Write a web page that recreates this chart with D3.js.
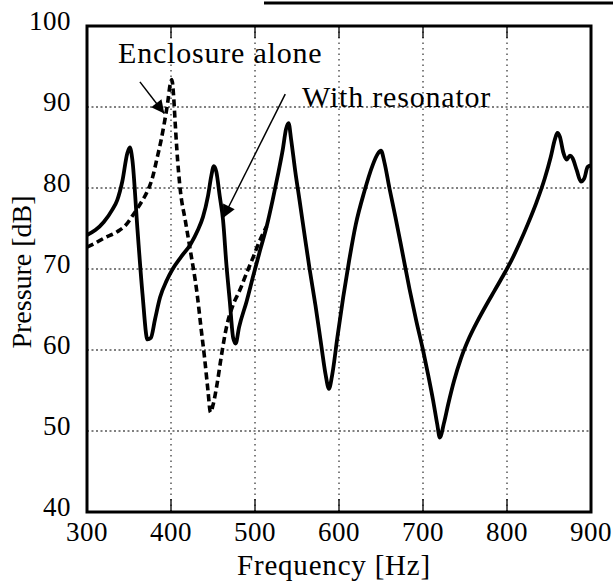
<!DOCTYPE html>
<html><head><meta charset="utf-8">
<script src="https://cdn.jsdelivr.net/npm/d3@7"></script>
<style>body{margin:0;background:#fff}svg{display:block}text{font-family:"Liberation Serif","Times New Roman",serif;fill:#000}</style>
</head><body>
<script>
// ---- data ----
const xTicks = [300, 400, 500, 600, 700, 800, 900];
const yTicks = [40, 50, 60, 70, 80, 90, 100];
const xLabel = "Frequency [Hz]";
const yLabel = "Pressure [dB]";
const withResFreq = [300,310,320,330,336,342,348,351,354,360,366,372,376,381,387,395,402,412,423,432,438,444,448,451,454,458,462,466,470,474,477,481,490,498,506,514,521,528,533,537,540,543,548,553,560,565,572,579,584,588,592,598,605,612,620,630,640,646,650,654,660,667,675,684,692,700,706,712,717,720,725,730,737,745,755,765,775,785,795,805,815,825,835,845,852,857,860,863,867,871,875,878,883,888,892,896,900];
const withResDb = [74.2,74.8,75.8,77.3,78.5,80.8,84.3,85.0,83.5,75,67,61.3,61.5,63.8,66.5,68.6,70,71.5,73,74.8,76.4,79,81.5,82.7,82,79,76,70.5,66,61.5,60.8,62.8,66,69.2,72.3,75.3,78.5,82,84.7,87.3,88,86,82,78.5,73.5,70,65.5,60.5,57,55.2,57,61.5,66.5,71,75.5,79.5,82.8,84.2,84.6,83.2,80,76.5,72.3,67.5,63.6,60,57,53.8,50.8,49.2,51,53.3,56.2,58.9,61.5,63.6,65.5,67.3,69.1,71,73.2,75.6,78.2,81.2,83.8,86,86.8,86.3,84.4,83.5,84,83.7,82.2,80.8,81.2,82.6,82.8];
const aloneFreq = [300,310,320,336,346,355,365,371,378,383,388,392,396,399,401,403,405,407,411,417,423,431,436,440,444,447,450,455,460,466,474,482,490,498,506,514];
const aloneDb = [72.7,73.2,73.8,74.6,75.4,76.7,78.3,79.4,81.3,83.5,85.8,88,90.5,92.8,93.4,91.5,88,84.7,79.8,76,72.3,67,62.5,59,55,52.3,53.2,55.9,59.3,62.8,65.6,67.4,69.5,71.5,73.6,75.3];
const labelAlone = "Enclosure alone";
const labelWith = "With resonator";

// ---- layout ----
const W = 613, H = 582;
const pL = 87, pR = 591, pT = 26, pB = 512;
const svg = d3.select("body").append("svg").attr("width", W).attr("height", H);
const x = d3.scaleLinear().domain([300, 900]).range([pL, pR]);
const y = d3.scaleLinear().domain([40, 100]).range([pB, pT]);

// scan artifact line at top
svg.append("line").attr("x1", 264).attr("x2", 613).attr("y1", 3).attr("y2", 3)
  .attr("stroke", "#000").attr("stroke-width", 3);

// grid
const g = svg.append("g");
const inner = xTicks.filter(d => d > 300 && d < 900);
g.selectAll(".hg").data(yTicks.filter(d => d > 40 && d < 100)).join("line")
  .attr("x1", pL).attr("x2", pR).attr("y1", d => y(d)).attr("y2", d => y(d))
  .attr("stroke", "#000").attr("stroke-width", 1).attr("stroke-dasharray", "2,2.5");
g.selectAll(".vg").data(inner).join("line")
  .attr("x1", d => x(d)).attr("x2", d => x(d)).attr("y1", pT).attr("y2", pB)
  .attr("stroke", "#000").attr("stroke-width", 1).attr("stroke-dasharray", "1.5,4");
g.selectAll(".tb").data(inner).join("line")
  .attr("x1", d => x(d)).attr("x2", d => x(d)).attr("y1", pB).attr("y2", pB - 13)
  .attr("stroke", "#000").attr("stroke-width", 1.3);
g.selectAll(".tt").data(inner).join("line")
  .attr("x1", d => x(d)).attr("x2", d => x(d)).attr("y1", pT).attr("y2", pT + 12)
  .attr("stroke", "#000").attr("stroke-width", 1.3);

// curves
const line = d3.line().curve(d3.curveMonotoneX).x(d => x(d[0])).y(d => y(d[1]));
const alone = aloneFreq.map((f, i) => [f, aloneDb[i]]);
const withRes = withResFreq.map((f, i) => [f, withResDb[i]]);
svg.append("path").datum(alone).attr("d", line).attr("fill", "none")
  .attr("stroke", "#000").attr("stroke-width", 3.6).attr("stroke-dasharray", "7,4");
svg.append("path").datum(withRes).attr("d", line).attr("fill", "none")
  .attr("stroke", "#000").attr("stroke-width", 3.8).attr("stroke-linejoin", "round");

// frame
svg.append("rect").attr("x", pL).attr("y", pT).attr("width", pR - pL).attr("height", pB - pT)
  .attr("fill", "none").attr("stroke", "#000").attr("stroke-width", 3);

// tick labels
svg.selectAll(".xl").data(xTicks).join("text")
  .attr("x", d => x(d)).attr("y", pB + 29).attr("text-anchor", "middle")
  .attr("font-size", 27).attr("letter-spacing", 0.5).text(d => d);
svg.selectAll(".yl").data(yTicks).join("text")
  .attr("x", pL - 16).attr("y", d => y(d) + 4).attr("text-anchor", "end")
  .attr("font-size", 27).attr("letter-spacing", 0.5).text(d => d);

// axis titles
svg.append("text").attr("x", (pL + pR) / 2 - 5).attr("y", 575).attr("text-anchor", "middle")
  .attr("font-size", 29).attr("letter-spacing", 0.8).text(xLabel);
svg.append("text").attr("transform", `translate(31,${(pT + pB) / 2 + 3}) rotate(-90)`)
  .attr("text-anchor", "middle").attr("font-size", 28).text(yLabel);

// annotations
const defs = svg.append("defs");
defs.append("marker").attr("id", "ah").attr("viewBox", "0 0 10 10").attr("refX", 10).attr("refY", 5)
  .attr("markerWidth", 18).attr("markerHeight", 13).attr("orient", "auto").attr("markerUnits", "userSpaceOnUse")
  .append("path").attr("d", "M0,0 L10,5 L0,10 Z").attr("fill", "#000");

svg.append("text").attr("x", 118).attr("y", 63).attr("font-size", 30).attr("letter-spacing", 0.8).text(labelAlone);
svg.append("text").attr("x", 302).attr("y", 107).attr("font-size", 30).attr("letter-spacing", 0.8).text(labelWith);
svg.append("line").attr("x1", x(363)).attr("y1", y(93.1)).attr("x2", x(392)).attr("y2", y(89.2))
  .attr("stroke", "#000").attr("stroke-width", 1.5).attr("marker-end", "url(#ah)");
svg.append("line").attr("x1", x(536)).attr("y1", y(91.6)).attr("x2", x(462)).attr("y2", y(76.3))
  .attr("stroke", "#000").attr("stroke-width", 1.5).attr("marker-end", "url(#ah)");
</script>
</body></html>
